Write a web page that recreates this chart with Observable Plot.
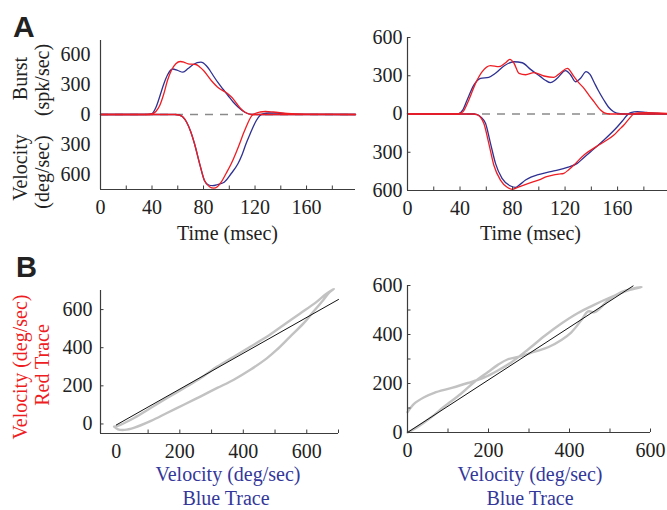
<!DOCTYPE html>
<html>
<head>
<meta charset="utf-8">
<script src="https://cdn.jsdelivr.net/npm/d3@7"></script>
<script src="https://cdn.jsdelivr.net/npm/@observablehq/plot@0.6"></script>
<style>
  html, body { margin: 0; padding: 0; background: #fff; }
  #fig { position: relative; width: 667px; height: 510px; overflow: hidden; }
  #fig > svg { position: absolute; overflow: visible; }
</style>
</head>
<body>
<div id="fig"></div>
<script>
const BLUE = "#2e3192", RED = "#ee1d23", GRAY = "#c2c2c2", AXIS = "#3c3c3c", INK = "#222";
const SERIF = "'Liberation Serif', 'Times New Roman', serif";

// ---- Panel A, left saccade: [time ms, rate spk/s] and [time ms, velocity deg/s, drawn downward]
const aLeftBlueBurst = [[0,0],[30,0],[37,2],[40,10],[43,70],[46,180],[49,300],[52,395],[56,455],[60,440],[64,423],[68,460],[72,500],[78,523],[82,490],[85,440],[88,380],[91,323],[95,255],[99,190],[103,125],[107,73],[112,23],[117,2],[122,0],[198,0]];
const aLeftRedBurst = [[0,0],[36,0],[40,5],[43,30],[46,90],[49,200],[52,340],[55,440],[58.5,507],[62,530],[65,522],[68,507],[74,500],[77,475],[80,440],[86,340],[92,262],[97,225],[100,195],[103,157],[106,105],[109,57],[112,25],[115,7],[118,0],[198,0]];
const aLeftBlueVel = [[0,0],[58,0],[61,-5],[64,-25],[67,-80],[70,-170],[73,-293],[77,-493],[80.7,-660],[84,-705],[87,-712],[91,-700],[96,-677],[101.5,-590],[106.7,-493],[110,-400],[113,-293],[116,-200],[118.4,-127],[121,-60],[123.6,-12],[126,6],[131,15],[137,14],[145,7],[160,2],[198,0]];
const aLeftRedVel = [[0,0],[58,0],[61,-5],[64,-25],[67,-80],[70,-170],[73,-293],[77,-493],[80.7,-660],[84.6,-722],[88,-737],[90.5,-725],[93.7,-677],[97.5,-590],[101.5,-493],[105,-390],[108,-293],[110.5,-205],[113,-127],[115.5,-55],[117.5,-12],[120,10],[124,25],[128,30],[134,25],[145,10],[160,3],[198,0]];

// ---- Panel A, right saccade
const aRightBlueBurst = [[0,0],[35,0],[39,3],[42,30],[45.4,110],[50.5,227],[55.6,280],[61.9,288],[67,319],[73.4,376],[81,410],[87.4,402],[93.7,350],[101.3,293],[105,265],[108.9,246],[112,262],[114,280],[120.4,340],[124,310],[128,253],[131.8,280],[136,332],[139,310],[141.9,253],[145,190],[149.5,110],[153,55],[157,18],[162,2],[166,0],[198,0]];
const aRightRedBurst = [[0,0],[38,0],[42,15],[46.7,110],[51.8,240],[56.9,332],[63.2,379],[69.6,371],[74.7,402],[78,429],[81,400],[84.9,319],[90,308],[96.3,324],[103.9,298],[111.5,288],[116.6,324],[121.7,358],[126.8,293],[130,250],[134.4,201],[138,150],[142,97],[147,31],[150,8],[154,0],[198,0]];
const aRightBlueVel = [[0,0],[50,0],[53,-5],[56,-25],[59.4,-73],[63.2,-230],[67,-387],[72,-505],[78.5,-565],[82.3,-575],[86,-550],[89.9,-518],[94,-495],[98.8,-478],[109,-452],[115,-438],[121.7,-418],[129.3,-387],[134,-345],[139.5,-296],[149.6,-204],[159.8,-100],[164,-50],[167.4,-8],[170,10],[175,18],[182,12],[190,5],[198,3]];
const aRightRedVel = [[0,0],[50,0],[53,-5],[55.5,-25],[58.1,-73],[61.9,-230],[65.7,-400],[70.8,-518],[75.9,-575],[79.7,-591],[84,-575],[88.6,-557],[95,-535],[101.3,-512],[106,-492],[111.5,-478],[115,-472],[119.1,-465],[123,-435],[126.8,-400],[134.4,-321],[144.5,-251],[151,-210],[157.2,-165],[161,-125],[164.8,-86],[168.5,-40],[172.4,0],[176,8],[182,10],[190,8],[198,5]];

// ---- Panel B: [blue trace velocity, red trace velocity] phase loops and linear fits
const bLeftLoop = [[-5,-14],[16,-2],[57,33],[109,85],[161,137],[214,189],[266,241],[318,301],[370,353],[422,405],[474,457],[526,518],[578,578],[630,639],[661,682],[685,708],[672,691],[651,648],[620,587],[589,526],[547,457],[505,388],[474,344],[422,284],[370,232],[318,189],[266,145],[214,102],[161,59],[109,16],[57,-19],[26,-31],[5,-28],[-7,-14]];
const bRightLoop = [[0,83],[16,117],[41,144],[66,162],[107,181],[149,202],[190,225],[223,253],[256,286],[297,338],[339,395],[380,445],[421,488],[462,522],[503,553],[545,580],[578,593],[561,589],[528,573],[495,539],[474,505],[462,491],[446,494],[429,458],[404,408],[380,378],[347,348],[314,330],[281,312],[248,299],[223,276],[198,246],[165,206],[132,158],[90,105],[57,60],[24,22],[0,0]];
const bLeftFit = {slope: 0.94, intercept: -5, from: 0, to: 700};
const bRightFit = {slope: 1.074, intercept: 0, from: 0, to: 557};

// ---- Axis tick values
const aTimeTicks = [0, 40, 80, 120, 160];
const aTimeMinor = [20, 40, 60, 80, 100, 120, 140, 160, 180];
const aLeftRateTicks = [-600, -300, 0, 300, 600];
const aRightRateTicks = [-600, -300, 0, 300, 600];
const bTicks = [0, 200, 400, 600];
const bLeftMinorX = [100, 200, 300, 400, 500, 600, 700];
const bLeftMinorY = [0, 200, 400, 600];
const bRightMinor = [100, 200, 300, 400, 500, 600];

const fig = document.getElementById("fig");

// Builds one panel: axis lines at the low edges, inward ticks, and serif tick labels.
function panel(o) {
  const pw = o.width - o.ml - o.mr, ph = o.height - o.mt - o.mb;
  const [x0, x1] = o.xDomain, [y0, y1] = o.yDomain;
  const kx = (x1 - x0) / pw, ky = (y1 - y0) / ph;
  const tick = 3.5;
  const marks = [
    ...o.marks,
    Plot.ruleX([x0], {stroke: AXIS, strokeWidth: 1.2}),
    Plot.ruleY([y0], {stroke: AXIS, strokeWidth: 1.2}),
    Plot.ruleX(o.xMinor || [], {x: d => d, y1: y0, y2: y0 + tick * ky, stroke: AXIS, strokeWidth: 1}),
    Plot.ruleY(o.yMinor || [], {y: d => d, x1: x0, x2: x0 + tick * kx, stroke: AXIS, strokeWidth: 1}),
    Plot.axisX({ticks: o.xTicks, tickSize: 0, tickPadding: 10, tickFormat: d => String(d), label: null}),
    Plot.axisY({ticks: o.yTicks, tickSize: 0, tickPadding: o.yPad, tickFormat: o.yFormat || (d => String(d)), label: null})
  ];
  const svg = Plot.plot({
    width: o.width, height: o.height,
    marginTop: o.mt, marginRight: o.mr, marginBottom: o.mb, marginLeft: o.ml,
    x: {domain: o.xDomain}, y: {domain: o.yDomain},
    style: {background: "transparent", overflow: "visible", fontFamily: SERIF, fontSize: "20px", color: INK},
    marks
  });
  svg.style.left = o.left + "px";
  svg.style.top = o.top + "px";
  fig.append(svg);
}

const trace = (data, stroke) => Plot.line(data, {x: d => d[0], y: d => d[1], stroke, strokeWidth: 1.3, curve: "monotone-x"});
const zeroLine = Plot.ruleY([0], {stroke: "#8a8a8a", strokeWidth: 1.4, strokeDasharray: "8,7"});
const absFormat = d => String(Math.abs(d));

panel({
  left: 0, top: 0, width: 360, height: 250, mt: 40, mr: 5, mb: 61, ml: 100,
  xDomain: [0, 198], yDomain: [-750, 740],
  xTicks: aTimeTicks, xMinor: aTimeMinor, yTicks: aLeftRateTicks, yPad: 10, yFormat: absFormat,
  marks: [zeroLine, trace(aLeftBlueBurst, BLUE), trace(aLeftBlueVel, BLUE), trace(aLeftRedBurst, RED), trace(aLeftRedVel, RED)]
});

panel({
  left: 340, top: 0, width: 327, height: 250, mt: 37, mr: 0, mb: 60, ml: 67,
  xDomain: [0, 198], yDomain: [-600, 600],
  xTicks: aTimeTicks, xMinor: aTimeMinor, yTicks: aRightRateTicks, yMinor: [-600, -300, 300, 600], yPad: 5, yFormat: absFormat,
  marks: [zeroLine, trace(aRightBlueBurst, BLUE), trace(aRightBlueVel, BLUE), trace(aRightRedBurst, RED), trace(aRightRedVel, RED)]
});

const loop = data => Plot.line(data, {x: d => d[0], y: d => d[1], stroke: GRAY, strokeWidth: 2.4, curve: "catmull-rom"});
const fit = f => Plot.line([f.from, f.to], {x: d => d, y: d => f.intercept + f.slope * d, stroke: "#111", strokeWidth: 1});

panel({
  left: 0, top: 250, width: 345, height: 260, mt: 40, mr: 7, mb: 77, ml: 100,
  xDomain: [-50, 700], yDomain: [-50, 700],
  xTicks: bTicks, xMinor: bLeftMinorX, yTicks: bTicks, yMinor: bLeftMinorY, yPad: 8,
  marks: [loop(bLeftLoop), fit(bLeftFit)]
});

panel({
  left: 340, top: 250, width: 327, height: 260, mt: 35, mr: 17, mb: 78, ml: 67,
  xDomain: [0, 600], yDomain: [0, 600],
  xTicks: bTicks, xMinor: bRightMinor, yTicks: bTicks, yMinor: bRightMinor, yPad: 5,
  marks: [loop(bRightLoop), fit(bRightFit)]
});

// Panel letters and axis titles
const overlay = d3.select(fig).append("svg")
  .attr("width", 667).attr("height", 510)
  .style("left", "0px").style("top", "0px")
  .style("pointer-events", "none");

const titles = [
  {text: "A", x: 13, y: 36.7, sans: true, size: 30},
  {text: "B", x: 16, y: 276.7, sans: true, size: 29},
  {text: "Time (msec)", x: 227.5, y: 240, anchor: "middle"},
  {text: "Time (msec)", x: 530.5, y: 240, anchor: "middle"},
  {text: "Burst", x: 27, y: 78.5, rotate: true},
  {text: "(spk/sec)", x: 49, y: 80, rotate: true},
  {text: "Velocity", x: 27, y: 167.5, rotate: true},
  {text: "(deg/sec)", x: 49, y: 172, rotate: true},
  {text: "Velocity (deg/sec)", x: 27, y: 367, rotate: true, color: RED},
  {text: "Red Trace", x: 48.5, y: 365, rotate: true, color: RED},
  {text: "Velocity (deg/sec)", x: 228, y: 480.5, anchor: "middle", color: "#34379a"},
  {text: "Blue Trace", x: 226, y: 505, anchor: "middle", color: "#34379a"},
  {text: "Velocity (deg/sec)", x: 530, y: 480.5, anchor: "middle", color: "#34379a"},
  {text: "Blue Trace", x: 530, y: 505, anchor: "middle", color: "#34379a"}
];

for (const t of titles) {
  const el = overlay.append("text")
    .text(t.text)
    .attr("fill", t.color || INK)
    .attr("font-family", t.sans ? "'Liberation Sans', Arial, sans-serif" : SERIF)
    .attr("font-weight", t.sans ? "bold" : null)
    .attr("font-size", t.size || 20)
    .attr("text-anchor", t.rotate ? "middle" : (t.anchor || "start"));
  if (t.rotate) el.attr("transform", `translate(${t.x},${t.y}) rotate(-90)`);
  else el.attr("x", t.x).attr("y", t.y);
}
</script>
</body>
</html>
